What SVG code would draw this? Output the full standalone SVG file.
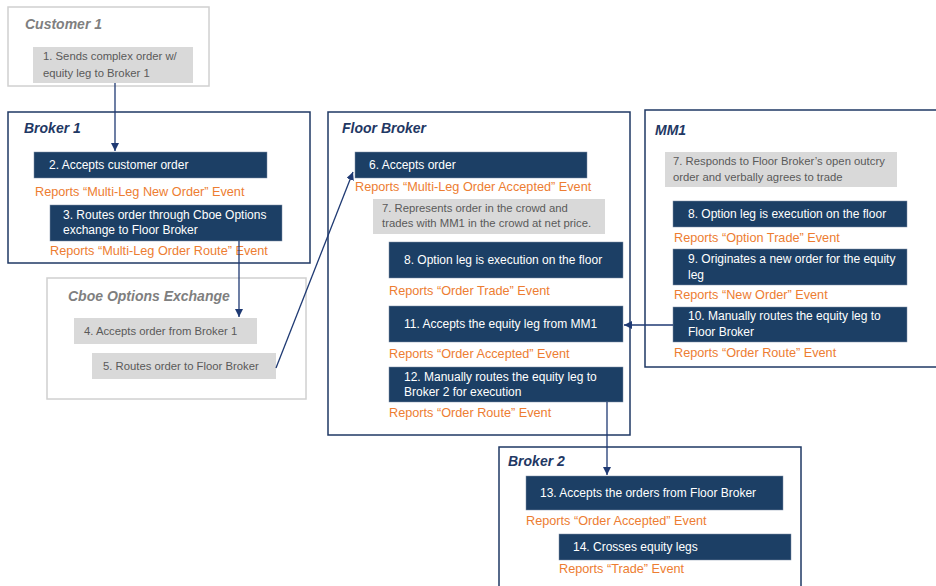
<svg xmlns="http://www.w3.org/2000/svg" width="936" height="586" viewBox="0 0 936 586">
<defs>
<style>
text{font-family:"Liberation Sans",Arial,sans-serif}
.frame{fill:#fff;stroke:#1f3864;stroke-width:1.5}
.gframe{fill:#fff;stroke:#d0d0d0;stroke-width:1.5}
.title{font-size:14px;font-weight:bold;font-style:italic;fill:#1f3864}
.gtitle{font-size:14px;font-weight:bold;font-style:italic;fill:#7f7f7f}
.nb{fill:#1c3f65;stroke:#7f8fa6;stroke-width:0.5}
.gb{fill:#d9d9d9}
.wt{font-size:12px;fill:#fff}
.gt{font-size:11.3px;fill:#595959}
.ot{font-size:12.7px;fill:#ed7d31}
.conn{stroke:#1f3a73;stroke-width:1.3;fill:none;marker-end:url(#ah)}
</style>
<marker id="ah" markerUnits="userSpaceOnUse" markerWidth="10" markerHeight="10" refX="8" refY="4" orient="auto">
<path d="M0,0 L8,4 L0,8 Z" fill="#1f3a73"/>
</marker>
</defs>
<rect width="936" height="586" fill="#fff"/>

<g id="customer1">
<rect class="gframe" x="8" y="7" width="201" height="79"/>
<text class="gtitle" x="25" y="29">Customer 1</text>
<rect class="gb" x="33" y="47" width="160" height="36"/>
<text class="gt" x="43" y="60">1. Sends complex order w/</text>
<text class="gt" x="43" y="77">equity leg to Broker 1</text>
</g>

<g id="broker1">
<rect class="frame" x="8" y="112" width="302" height="151"/>
<text class="title" x="24" y="133">Broker 1</text>
<rect class="nb" x="34" y="152" width="233" height="26"/>
<text class="wt" x="49" y="169">2. Accepts customer order</text>
<text class="ot" x="35" y="196">Reports “Multi-Leg New Order” Event</text>
<rect class="nb" x="50" y="205" width="232" height="36"/>
<text class="wt" x="63" y="219">3. Routes order through Cboe Options</text>
<text class="wt" x="63" y="234">exchange to Floor Broker</text>
<text class="ot" x="50" y="255">Reports “Multi-Leg Order Route” Event</text>
</g>

<g id="cboe">
<rect class="gframe" x="47" y="278" width="259" height="121"/>
<text class="gtitle" x="68" y="301">Cboe Options Exchange</text>
<rect class="gb" x="74" y="318" width="183" height="26"/>
<text class="gt" x="84" y="335">4. Accepts order from Broker 1</text>
<rect class="gb" x="92" y="353" width="184" height="26"/>
<text class="gt" x="103" y="370">5. Routes order to Floor Broker</text>
</g>

<g id="floorbroker">
<rect class="frame" x="328" y="112" width="302" height="323"/>
<text class="title" x="342" y="133">Floor Broker</text>
<rect class="nb" x="355" y="152" width="232" height="26"/>
<text class="wt" x="369" y="169">6. Accepts order</text>
<text class="ot" x="355" y="191">Reports “Multi-Leg Order Accepted” Event</text>
<rect class="gb" x="373" y="199" width="232" height="35"/>
<text class="gt" x="382" y="212">7. Represents order in the crowd and</text>
<text class="gt" x="382" y="227">trades with MM1 in the crowd at net price.</text>
<rect class="nb" x="389" y="242" width="234" height="36"/>
<text class="wt" x="404" y="264">8. Option leg is execution on the floor</text>
<text class="ot" x="389" y="295">Reports “Order Trade” Event</text>
<rect class="nb" x="389" y="306" width="234" height="36"/>
<text class="wt" x="404" y="328">11. Accepts the equity leg from MM1</text>
<text class="ot" x="389" y="358">Reports “Order Accepted” Event</text>
<rect class="nb" x="389" y="367" width="234" height="35"/>
<text class="wt" x="404" y="381">12. Manually routes the equity leg to</text>
<text class="wt" x="404" y="396">Broker 2 for execution</text>
<text class="ot" x="389" y="417">Reports “Order Route” Event</text>
</g>

<g id="mm1">
<rect class="frame" x="645" y="110" width="300" height="257"/>
<text class="title" x="655" y="135">MM1</text>
<rect class="gb" x="665" y="152" width="232" height="35"/>
<text class="gt" x="673" y="165">7. Responds to Floor Broker’s open outcry</text>
<text class="gt" x="673" y="181">order and verbally agrees to trade</text>
<rect class="nb" x="673" y="201" width="234" height="26"/>
<text class="wt" x="688" y="218">8. Option leg is execution on the floor</text>
<text class="ot" x="674" y="242">Reports “Option Trade” Event</text>
<rect class="nb" x="673" y="249" width="234" height="36"/>
<text class="wt" x="688" y="263">9. Originates a new order for the equity</text>
<text class="wt" x="688" y="279">leg</text>
<text class="ot" x="674" y="299">Reports “New Order” Event</text>
<rect class="nb" x="673" y="307" width="234" height="35"/>
<text class="wt" x="688" y="320">10. Manually routes the equity leg to</text>
<text class="wt" x="688" y="336">Floor Broker</text>
<text class="ot" x="674" y="357">Reports “Order Route” Event</text>
</g>

<g id="broker2">
<rect class="frame" x="499" y="447" width="302" height="160"/>
<text class="title" x="508" y="466">Broker 2</text>
<rect class="nb" x="526" y="476" width="257" height="34"/>
<text class="wt" x="540" y="497">13. Accepts the orders from Floor Broker</text>
<text class="ot" x="526" y="525">Reports “Order Accepted” Event</text>
<rect class="nb" x="559" y="534" width="232" height="26"/>
<text class="wt" x="573" y="551">14. Crosses equity legs</text>
<text class="ot" x="559" y="573">Reports “Trade” Event</text>
</g>

<g id="connectors">
<path class="conn" d="M115,83 L115,151"/>
<path class="conn" d="M239,241 L239,317"/>
<path class="conn" d="M276,368 L353,172"/>
<path class="conn" d="M673,325 L624,325"/>
<path class="conn" d="M607,402 L607,475"/>
</g>
</svg>
